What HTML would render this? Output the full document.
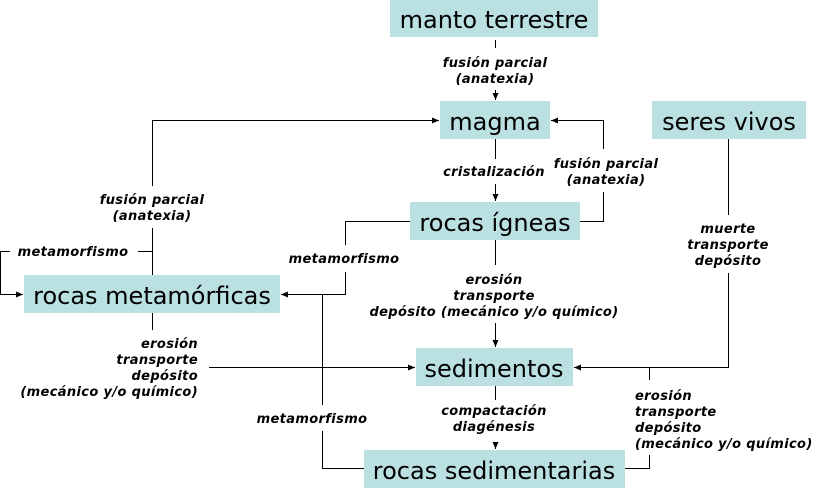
<!DOCTYPE html>
<html><head><meta charset="utf-8"><style>
html,body{margin:0;padding:0;background:#fff;}
svg{display:block;}
.b{fill:#bbe0e1;}
.t{font-family:"DejaVu Sans","Liberation Sans",sans-serif;font-size:24px;fill:#000;text-anchor:middle;}
.l{font-family:"DejaVu Sans","Liberation Sans",sans-serif;font-size:13px;font-weight:bold;font-style:italic;fill:#000;text-anchor:middle;letter-spacing:0.35px;}
.r{text-anchor:end;}
.s{text-anchor:start;}
line,polyline{stroke:#000;stroke-width:1;fill:none;}
</style></head><body>
<svg width="824" height="488" viewBox="0 0 824 488" xmlns="http://www.w3.org/2000/svg">
<defs><marker id="a" markerWidth="8" markerHeight="8" refX="7" refY="4" orient="auto" markerUnits="userSpaceOnUse"><path d="M0,1 L7,4 L0,7 z" fill="#000"/></marker></defs>
<rect class="b" x="390" y="0" width="208" height="37"/>
<text class="t" x="494" y="28">manto terrestre</text>
<rect class="b" x="440" y="101" width="110" height="38"/>
<text class="t" x="495" y="130">magma</text>
<rect class="b" x="652" y="101" width="154" height="38"/>
<text class="t" x="729" y="130">seres vivos</text>
<rect class="b" x="410" y="202" width="170" height="38"/>
<text class="t" x="495" y="231">rocas ígneas</text>
<rect class="b" x="24" y="275" width="256" height="38"/>
<text class="t" x="152" y="304">rocas metamórficas</text>
<rect class="b" x="416" y="348" width="157" height="38"/>
<text class="t" x="494" y="377">sedimentos</text>
<rect class="b" x="364" y="450" width="261" height="38"/>
<text class="t" x="494" y="479">rocas sedimentarias</text>

<line x1="495.5" y1="40" x2="495.5" y2="48"/>
<text class="l" x="495" y="67">fusión parcial</text>
<text class="l" x="495" y="83">(anatexia)</text>
<line x1="495.5" y1="90" x2="495.5" y2="100" marker-end="url(#a)"/>

<line x1="495.5" y1="139" x2="495.5" y2="159"/>
<text class="l" x="494" y="176">cristalización</text>
<line x1="495.5" y1="184" x2="495.5" y2="201" marker-end="url(#a)"/>

<polyline points="580,221.5 603.5,221.5 603.5,192"/>
<text class="l" x="606" y="168">fusión parcial</text>
<text class="l" x="606" y="184">(anatexia)</text>
<polyline points="603.5,149 603.5,120.5 551,120.5" marker-end="url(#a)"/>

<line x1="152.5" y1="275" x2="152.5" y2="228"/>
<text class="l" x="152" y="204">fusión parcial</text>
<text class="l" x="152" y="220">(anatexia)</text>
<polyline points="152.5,186 152.5,120.5 439,120.5" marker-end="url(#a)"/>

<line x1="152" y1="251.5" x2="138" y2="251.5"/>
<text class="l" x="73" y="256">metamorfismo</text>
<polyline points="10,251.5 0.5,251.5 0.5,294.5 23,294.5" marker-end="url(#a)"/>

<polyline points="410,221.5 345.5,221.5 345.5,245"/>
<text class="l" x="344" y="263">metamorfismo</text>
<polyline points="345.5,272 345.5,294.5 281,294.5" marker-end="url(#a)"/>

<line x1="322.5" y1="294" x2="322.5" y2="405"/>
<text class="l" x="312" y="423">metamorfismo</text>
<polyline points="322.5,431 322.5,468.5 364,468.5"/>

<line x1="152.5" y1="313" x2="152.5" y2="330"/>
<text class="l r" x="198" y="348">erosión</text>
<text class="l r" x="198" y="364">transporte</text>
<text class="l r" x="198" y="380">depósito</text>
<text class="l r" x="198" y="396">(mecánico y/o químico)</text>
<line x1="209" y1="367.5" x2="415" y2="367.5" marker-end="url(#a)"/>

<line x1="495.5" y1="240" x2="495.5" y2="265"/>
<text class="l" x="494" y="284">erosión</text>
<text class="l" x="494" y="300">transporte</text>
<text class="l" x="494" y="316">depósito (mecánico y/o químico)</text>
<line x1="495.5" y1="323" x2="495.5" y2="347" marker-end="url(#a)"/>

<line x1="728.5" y1="139" x2="728.5" y2="215"/>
<text class="l" x="728" y="233">muerte</text>
<text class="l" x="728" y="249">transporte</text>
<text class="l" x="728" y="265">depósito</text>
<polyline points="728.5,273 728.5,367.5 574,367.5" marker-end="url(#a)"/>

<line x1="495.5" y1="386" x2="495.5" y2="400"/>
<text class="l" x="494" y="415">compactación</text>
<text class="l" x="494" y="431">diagénesis</text>
<line x1="495.5" y1="442" x2="495.5" y2="449" marker-end="url(#a)"/>

<line x1="649.5" y1="367" x2="649.5" y2="380"/>
<text class="l s" x="635" y="400">erosión</text>
<text class="l s" x="635" y="416">transporte</text>
<text class="l s" x="635" y="432">depósito</text>
<text class="l s" x="635" y="448">(mecánico y/o químico)</text>
<polyline points="649.5,455 649.5,468.5 625,468.5"/>
</svg>
</body></html>
